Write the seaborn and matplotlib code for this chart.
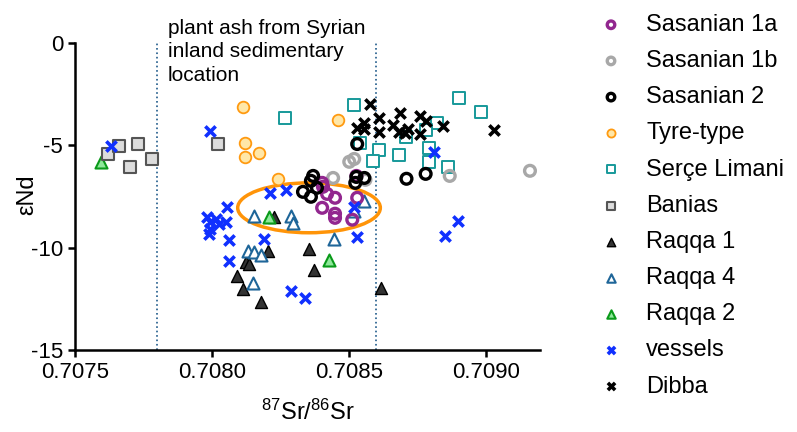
import matplotlib
matplotlib.use('Agg')
import matplotlib.pyplot as plt
from matplotlib.patches import Ellipse
import seaborn as sns
import pandas as pd

# 87Sr/86Sr (x) and eNd (y) per glass group
sas1a_sr = [0.708406, 0.708421, 0.708450, 0.708403, 0.708450, 0.708450, 0.708513, 0.708531, 0.708528, 0.708403]
sas1a_nd = [-7.02, -7.37, -7.56, -8.05, -8.34, -8.54, -8.63, -7.56, -6.49, -6.83]

sas1b_sr = [0.708502, 0.708520, 0.708443, 0.708869, 0.709162, 0.708561]
sas1b_nd = [-5.80, -5.66, -6.59, -6.49, -6.24, -6.68]

sas2_sr = [0.708531, 0.708370, 0.708362, 0.708384, 0.708333, 0.708362, 0.708528, 0.708557, 0.708524, 0.708711, 0.708781]
sas2_nd = [-4.93, -6.49, -6.73, -7.07, -7.27, -7.51, -6.54, -6.59, -6.83, -6.63, -6.39]

tyre_sr = [0.708113, 0.708120, 0.708120, 0.708172, 0.708241, 0.708462]
tyre_nd = [-3.12, -4.88, -5.56, -5.37, -6.63, -3.76]

serce_sr = [0.708267, 0.708520, 0.708902, 0.708983, 0.708821, 0.708784, 0.708711,
            0.708542, 0.708612, 0.708590, 0.708685, 0.708795, 0.708792, 0.708862]
serce_nd = [-3.66, -3.02, -2.68, -3.37, -3.90, -4.24, -4.59, -4.88, -5.22, -5.76, -5.46, -5.12, -5.80, -6.05]

banias_sr = [0.707621, 0.707661, 0.707731, 0.707702, 0.707783, 0.708021]
banias_nd = [-5.41, -5.02, -4.93, -6.05, -5.66, -4.93]

raqqa1_sr = [0.708227, 0.708205, 0.708124, 0.708135, 0.708091, 0.708113, 0.708179, 0.708355, 0.708373, 0.708619]
raqqa1_nd = [-8.49, -10.15, -10.68, -10.78, -11.37, -12.0, -12.68, -10.05, -11.07, -11.95]

raqqa4_sr = [0.708153, 0.708289, 0.708296, 0.708557, 0.708520, 0.708447, 0.708131, 0.708153, 0.708179, 0.708150]
raqqa4_nd = [-8.44, -8.44, -8.78, -7.71, -8.20, -9.56, -10.15, -10.20, -10.34, -11.71]

raqqa2_sr = [0.707595, 0.708208, 0.708428]
raqqa2_nd = [-5.80, -8.49, -10.59]

vessels_sr = [0.707632, 0.707992, 0.708212, 0.708271, 0.708054, 0.707981, 0.707995, 0.707992,
              0.708014, 0.708028, 0.708050, 0.707988, 0.708061, 0.708061, 0.708190, 0.708289,
              0.708340, 0.708531, 0.708520, 0.708810, 0.708898, 0.708850]
vessels_nd = [-5.02, -4.29, -7.32, -7.17, -8.00, -8.49, -8.73, -9.07,
              -8.59, -8.83, -8.73, -9.32, -9.61, -10.63, -9.56, -12.10,
              -12.44, -9.46, -8.00, -5.32, -8.68, -9.41]

dibba_sr = [0.708579, 0.708531, 0.708557, 0.708557, 0.708612, 0.708612, 0.708689, 0.708660,
            0.708685, 0.708715, 0.708704, 0.708759, 0.708781, 0.708759, 0.708843, 0.709030]
dibba_nd = [-2.98, -4.15, -3.90, -4.20, -3.66, -4.34, -3.41, -4.00,
            -4.34, -4.20, -4.39, -3.56, -3.80, -4.44, -4.05, -4.24]

# plant ash window and the highlighted cluster
ash_bounds = [0.7078, 0.7086]
ell_center = (0.708355, -8.05)
ell_w, ell_h = 0.000521, 2.44

sns.set_style('ticks')
plt.rcParams['font.family'] = ['Liberation Sans', 'DejaVu Sans']
plt.rcParams['mathtext.default'] = 'regular'
plt.rcParams['text.color'] = 'black'
plt.rcParams['axes.labelcolor'] = 'black'
plt.rcParams['xtick.color'] = 'black'
plt.rcParams['ytick.color'] = 'black'

fig = plt.figure(figsize=(7.97, 4.32), dpi=100)
ax = fig.add_axes([0.094, 0.19, 0.584, 0.71])

for xv in ash_bounds:
    ax.axvline(xv, color='#1f5a8a', ls=':', lw=1.2, zorder=1)

ax.add_patch(Ellipse(ell_center, ell_w, ell_h, fill=False, edgecolor='#ff9408', lw=2.5, zorder=2))

groups = [
    ('Raqqa 1', raqqa1_sr, raqqa1_nd, dict(marker='^', s=75, color='#333333', edgecolor='black', linewidth=1.0)),
    ('Raqqa 4', raqqa4_sr, raqqa4_nd, dict(marker='^', s=75, color='white', edgecolor='#1f6699', linewidth=1.5)),
    ('Raqqa 2', raqqa2_sr, raqqa2_nd, dict(marker='^', s=75, color='#8ee89a', edgecolor='#0a9a1a', linewidth=1.5)),
    ('Banias', banias_sr, banias_nd, dict(marker='s', s=70, color='#dcdcdc', edgecolor='#555555', linewidth=1.5)),
    ('Serçe Limani', serce_sr, serce_nd, dict(marker='s', s=70, color='white', edgecolor='#17999a', linewidth=1.4)),
    ('Tyre-type', tyre_sr, tyre_nd, dict(marker='o', s=70, color='#ffe7a8', edgecolor='#ff9a10', linewidth=1.3)),
    ('Sasanian 1b', sas1b_sr, sas1b_nd, dict(marker='o', s=60, color='none', edgecolor='#a8a8a8', linewidth=2.4)),
    ('Sasanian 1a', sas1a_sr, sas1a_nd, dict(marker='o', s=60, color='none', edgecolor='#92278f', linewidth=2.4)),
    ('Sasanian 2', sas2_sr, sas2_nd, dict(marker='o', s=60, color='none', edgecolor='black', linewidth=2.4)),
    ('vessels', vessels_sr, vessels_nd, dict(marker='x', s=55, color='#1030ff', linewidth=2.6)),
    ('Dibba', dibba_sr, dibba_nd, dict(marker='x', s=55, color='black', linewidth=2.6)),
]

for i, (name, xs, ys, kw) in enumerate(groups):
    df = pd.DataFrame({'sr': xs, 'nd': ys})
    sns.scatterplot(data=df, x='sr', y='nd', ax=ax, label=name, zorder=3 + i, **kw)

ax.set_xlim(0.7075, 0.7092)
ax.set_ylim(-15, 0)
ax.set_xticks([0.7075, 0.7080, 0.7085, 0.7090])
ax.set_xticklabels(['0.7075', '0.7080', '0.7085', '0.7090'])
ax.set_yticks([0, -5, -10, -15])
ax.set_yticklabels(['0', '-5', '-10', '-15'])
ax.tick_params(labelsize=16, width=1.8, length=5, direction='out', color='black', labelcolor='black')
for side in ['left', 'bottom']:
    ax.spines[side].set_linewidth(1.8)
    ax.spines[side].set_color('black')
sns.despine(ax=ax)

ax.set_xlabel('$^{87}$Sr/$^{86}$Sr', fontsize=17, labelpad=12)
ax.set_ylabel('εNd', fontsize=17)
ax.yaxis.set_label_coords(-0.078, 0.505)

ax.text(0.70784, 1.2, 'plant ash from Syrian\ninland sedimentary\nlocation', fontsize=15,
        va='top', ha='left', linespacing=1.3, clip_on=False)

order = ['Sasanian 1a', 'Sasanian 1b', 'Sasanian 2', 'Tyre-type', 'Serçe Limani', 'Banias',
         'Raqqa 1', 'Raqqa 4', 'Raqqa 2', 'vessels', 'Dibba']
handles, labels = ax.get_legend_handles_labels()
lookup = dict(zip(labels, handles))
ax.legend([lookup[k] for k in order], order, loc='upper left', bbox_to_anchor=(0.737, 0.995),
          bbox_transform=fig.transFigure, frameon=False, fontsize=17, markerscale=0.7,
          handlelength=1.0, handletextpad=1.0, labelspacing=0.6, borderpad=0)

plt.savefig('out.png', dpi=100)
